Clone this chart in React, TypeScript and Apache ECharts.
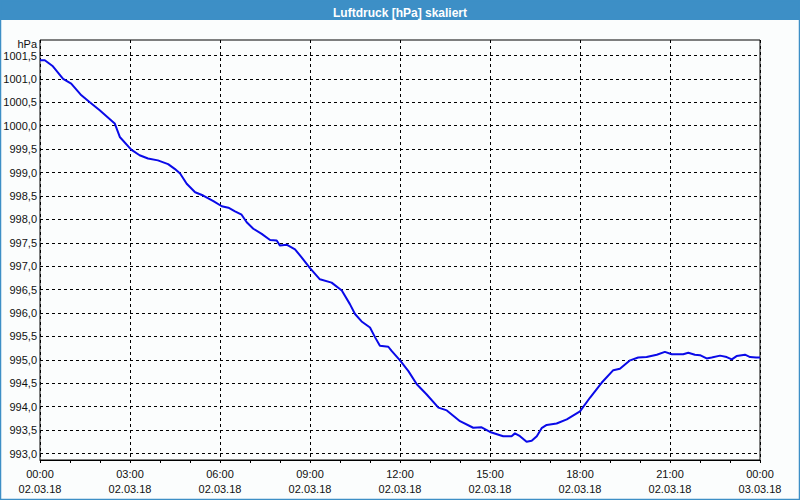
import React, { useEffect, useRef } from "react";
import * as echarts from "echarts";

const titleText = "Luftdruck [hPa] skaliert";
const unitLabel = "hPa";
const dayLabels = ["02.03.18", "03.03.18"];

const hours = [
  0, 0.16, 0.43, 0.77, 1.04, 1.38, 1.66, 1.99, 2.49, 2.66, 3.04, 3.32, 3.6, 3.93, 4.27, 4.49,
  4.67, 4.89, 5.17, 5.44, 5.78, 6.06, 6.28, 6.5, 6.72, 6.89, 7.11, 7.39, 7.67, 7.89, 8.0, 8.22,
  8.5, 8.72, 9.0, 9.33, 9.72, 10.06, 10.33, 10.5, 10.72, 11.0, 11.17, 11.33, 11.61, 11.72, 12.0,
  12.28, 12.56, 12.89, 13.28, 13.56, 14.0, 14.44, 14.72, 15.0, 15.44, 15.72, 15.83, 16.0, 16.22,
  16.39, 16.56, 16.72, 16.89, 17.22, 17.56, 18.0, 18.33, 18.72, 19.11, 19.33, 19.67, 19.94, 20.22,
  20.56, 20.83, 21.06, 21.44, 21.61, 21.83, 22.0, 22.22, 22.39, 22.67, 22.89, 23.06, 23.22, 23.5,
  23.67, 23.87, 24,
];

const pressure = [
  1001.4, 1001.4, 1001.27, 1001.0, 1000.9, 1000.65, 1000.5, 1000.33, 1000.05, 999.76, 999.49,
  999.37, 999.3, 999.26, 999.18, 999.08, 998.98, 998.76, 998.58, 998.51, 998.39, 998.28, 998.25,
  998.17, 998.1, 997.94, 997.8, 997.69, 997.56, 997.55, 997.44, 997.46, 997.36, 997.19, 996.96,
  996.72, 996.65, 996.48, 996.19, 995.98, 995.82, 995.69, 995.48, 995.3, 995.28, 995.19, 994.99,
  994.76, 994.48, 994.26, 993.98, 993.92, 993.69, 993.55, 993.56, 993.46, 993.37, 993.37, 993.43,
  993.37, 993.25, 993.27, 993.37, 993.54, 993.61, 993.64, 993.73, 993.9, 994.19, 994.51, 994.78,
  994.81, 994.99, 995.05, 995.06, 995.11, 995.17, 995.12, 995.12, 995.15, 995.11, 995.1, 995.03,
  995.05, 995.09, 995.06, 995.01, 995.08, 995.11, 995.06, 995.05, 995.05,
];

const yMin = 993.0;
const yMax = 1001.5;
const yStep = 0.5;

export default function App() {
  const ref = useRef<HTMLDivElement>(null);

  useEffect(() => {
    document.body.style.margin = "0";
    if (!ref.current) return;
    const chart = echarts.init(ref.current, null, { renderer: "svg" });
    const font = "Liberation Sans";
    const data = hours.map((h, i) => [h, pressure[i]]);
    chart.setOption({
      animation: false,
      backgroundColor: "#fbfdfd",
      textStyle: { fontFamily: font },
      title: {
        text: titleText,
        left: "center",
        top: 2,
        textStyle: { color: "#ffffff", fontSize: 12, fontWeight: "bold", fontFamily: font },
      },
      graphic: [
        {
          type: "rect",
          z: -10,
          silent: true,
          shape: { x: 0, y: 0, width: 800, height: 20 },
          style: { fill: "#3d8fc6" },
        },
        {
          type: "rect",
          z: 100,
          silent: true,
          shape: { x: 0.5, y: 0.5, width: 799, height: 499 },
          style: { fill: "none", stroke: "#3d8fc6", lineWidth: 1.5 },
        },
        {
          type: "text",
          x: 37,
          y: 44,
          style: {
            text: unitLabel,
            fill: "#111",
            font: `11px "${font}"`,
            textAlign: "right",
            textVerticalAlign: "middle",
          },
        },
      ],
      grid: [
        {
          left: 40,
          top: 40,
          width: 720,
          height: 420,
          show: true,
          borderColor: "#000",
          borderWidth: 1,
          backgroundColor: "transparent",
        },
        { left: 40, top: 55.5, width: 720, height: 398 },
      ],
      xAxis: [
        {
          gridIndex: 0,
          type: "value",
          min: 0,
          max: 24,
          interval: 3,
          axisLine: { show: true, lineStyle: { color: "#000", width: 1 } },
          axisTick: { show: true, length: 3, lineStyle: { color: "#000" } },
          minorTick: { show: true, splitNumber: 3, length: 3, lineStyle: { color: "#000" } },
          splitLine: { show: true, lineStyle: { color: "#000", type: [3, 3], width: 1 } },
          axisLabel: {
            color: "#111",
            fontSize: 11,
            fontFamily: font,
            lineHeight: 15,
            margin: 6,
            formatter: (v: number) => {
              const h = v % 24;
              const day = v >= 24 ? dayLabels[1] : dayLabels[0];
              return `${String(h).padStart(2, "0")}:00\n${day}`;
            },
          },
        },
        { gridIndex: 1, type: "value", min: 0, max: 24, show: false },
      ],
      yAxis: [
        { gridIndex: 0, type: "value", min: 0, max: 1, show: false },
        {
          gridIndex: 1,
          type: "value",
          min: yMin,
          max: yMax,
          interval: yStep,
          axisLine: { show: false },
          axisTick: { show: false },
          splitLine: { show: true, lineStyle: { color: "#000", type: [3, 3], width: 1 } },
          axisLabel: {
            color: "#111",
            fontSize: 11,
            fontFamily: font,
            margin: 3,
            padding: [4, 0, 0, 0],
            formatter: (v: number) => v.toFixed(1).replace(".", ","),
          },
        },
      ],
      series: [
        {
          type: "line",
          xAxisIndex: 1,
          yAxisIndex: 1,
          data,
          showSymbol: false,
          symbol: "none",
          lineStyle: { color: "#0a0ae8", width: 2 },
          z: 5,
        },
      ],
    });
    return () => chart.dispose();
  }, []);

  return (
    <div
      ref={ref}
      style={{ position: "absolute", left: 0, top: 0, width: 800, height: 500 }}
    />
  );
}
